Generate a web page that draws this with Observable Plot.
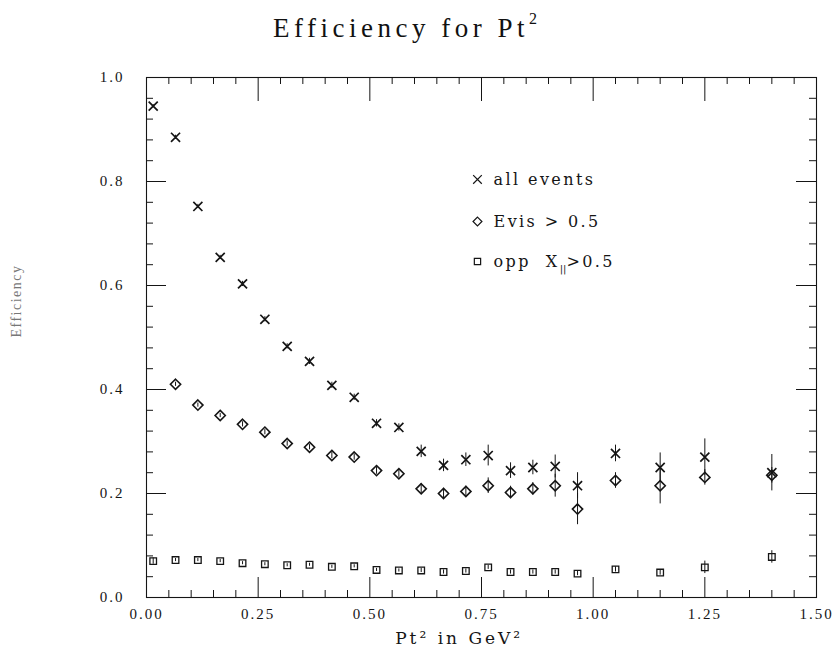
<!DOCTYPE html>
<html>
<head>
<meta charset="utf-8">
<script src="https://cdn.jsdelivr.net/npm/d3@7"></script>
<script src="https://cdn.jsdelivr.net/npm/@observablehq/plot@0.6"></script>
<style>
  body { margin: 0; background: #fff; }
  #title { position: relative; width: 837px; height: 60px; }
  #title span { position: absolute; top: 14px; left: 0; width: 810px; text-align: center;
    font-family: "Liberation Serif", serif; font-size: 27px; line-height: 1; letter-spacing: 4.5px; color: #111; }
  #title sup { font-size: 16px; letter-spacing: 0; position: relative; top: -3px; }
  svg text { white-space: pre; }
  g[font-size="15"] text { letter-spacing: 2px; }
  g[font-size="16"] text { letter-spacing: 2.4px; }
  g[font-size="17"] text { letter-spacing: 3px; }
  g[font-size="14"] text { letter-spacing: 1.5px; }
</style>
</head>
<body>
<div id="title"><span>Efficiency for Pt<sup>2</sup></span></div>
<div id="chart"></div>
<script>
// ---- data ----
const xAll = [0.015,0.065,0.115,0.165,0.215,0.265,0.315,0.365,0.415,0.465,0.515,0.565,0.615,0.665,0.715,0.765,0.815,0.865,0.915,0.965,1.05,1.15,1.25,1.40];
const yAll = [0.945,0.885,0.752,0.654,0.603,0.535,0.483,0.454,0.408,0.385,0.335,0.327,0.281,0.254,0.265,0.273,0.244,0.250,0.252,0.215,0.277,0.250,0.270,0.240];
const eAll = [0.003,0.004,0.004,0.004,0.005,0.005,0.005,0.006,0.006,0.006,0.007,0.007,0.012,0.012,0.013,0.020,0.015,0.014,0.022,0.025,0.016,0.028,0.035,0.035];

const xEvis = [0.065,0.115,0.165,0.215,0.265,0.315,0.365,0.415,0.465,0.515,0.565,0.615,0.665,0.715,0.765,0.815,0.865,0.915,0.965,1.05,1.15,1.25,1.40];
const yEvis = [0.410,0.370,0.350,0.333,0.318,0.296,0.289,0.273,0.270,0.244,0.238,0.209,0.200,0.204,0.215,0.202,0.209,0.215,0.170,0.225,0.215,0.231,0.235];
const eEvis = [0.004,0.004,0.004,0.005,0.005,0.005,0.005,0.006,0.006,0.007,0.007,0.010,0.010,0.010,0.015,0.012,0.012,0.022,0.030,0.015,0.035,0.015,0.015];

const xOpp = [0.015,0.065,0.115,0.165,0.215,0.265,0.315,0.365,0.415,0.465,0.515,0.565,0.615,0.665,0.715,0.765,0.815,0.865,0.915,0.965,1.05,1.15,1.25,1.40];
const yOpp = [0.070,0.072,0.072,0.070,0.066,0.064,0.062,0.063,0.059,0.060,0.053,0.052,0.052,0.049,0.051,0.058,0.049,0.049,0.049,0.046,0.054,0.048,0.058,0.078];
const eOpp = [0.006,0.003,0.003,0.003,0.003,0.003,0.003,0.003,0.003,0.003,0.003,0.003,0.004,0.004,0.004,0.004,0.004,0.004,0.004,0.004,0.005,0.005,0.012,0.012];

const xMajorTicks = [0, 0.25, 0.5, 0.75, 1.0, 1.25, 1.5];
const xTickLabels = ["0.00", "0.25", "0.50", "0.75", "1.00", "1.25", "1.50"];
const xMinorTicks = [0.05,0.1,0.15,0.2,0.3,0.35,0.4,0.45,0.55,0.6,0.65,0.7,0.8,0.85,0.9,0.95,1.05,1.1,1.15,1.2,1.3,1.35,1.4,1.45];
const yMajorTicks = [0, 0.2, 0.4, 0.6, 0.8, 1.0];
const yTickLabels = ["0.0", "0.2", "0.4", "0.6", "0.8", "1.0"];
const yMinorTicks = [0.04,0.08,0.12,0.16,0.24,0.28,0.32,0.36,0.44,0.48,0.52,0.56,0.64,0.68,0.72,0.76,0.84,0.88,0.92,0.96];

const legendLabels = ["all events", "Evis > 0.5", "opp  X||>0.5"];
const legendSymbols = ["times", "diamond2", "square2"];
const xLabel = "Pt² in GeV²";
const yLabel = "Efficiency";

// ---- build ----
const W = 837, H = 593, mL = 146, mR = 21, mT = 17, mB = 56;
const innerW = W - mL - mR, innerH = H - mT - mB;
const ink = "#151515";
const toRows = (xs, ys, es) => xs.map((x, i) => ({x, y: ys[i], e: es[i]}));
const all = toRows(xAll, yAll, eAll);
const evis = toRows(xEvis, yEvis, eEvis);
const opp = toRows(xOpp, yOpp, eOpp);
const legendRows = legendLabels.map((t, i) => ({t, s: legendSymbols[i], y: [0.804, 0.723, 0.646][i]}));

const majorLen = 20, minorLen = 7;

const svg = Plot.plot({
  width: W, height: H,
  marginLeft: mL, marginRight: mR, marginTop: mT, marginBottom: mB,
  x: {domain: [0, 1.5], axis: null},
  y: {domain: [0, 1], axis: null},
  style: {background: "#fff", color: ink, fontFamily: "Liberation Serif, serif"},
  marks: [
    Plot.frame({stroke: ink, strokeWidth: 1.1}),
    // x ticks bottom & top
    Plot.tickX(xMajorTicks, {x: d => d, insetTop: innerH - majorLen, stroke: ink}),
    Plot.tickX(xMajorTicks, {x: d => d, insetBottom: innerH - majorLen - 4, stroke: ink}),
    Plot.tickX(xMinorTicks, {x: d => d, insetTop: innerH - minorLen, stroke: ink}),
    Plot.tickX(xMinorTicks, {x: d => d, insetBottom: innerH - minorLen, stroke: ink}),
    // y ticks left & right
    Plot.tickY(yMajorTicks, {y: d => d, insetRight: innerW - majorLen, stroke: ink}),
    Plot.tickY(yMajorTicks, {y: d => d, insetLeft: innerW - majorLen, stroke: ink}),
    Plot.tickY(yMinorTicks, {y: d => d, insetRight: innerW - minorLen, stroke: ink}),
    Plot.tickY(yMinorTicks, {y: d => d, insetLeft: innerW - minorLen, stroke: ink}),
    // tick labels
    Plot.text(xMajorTicks, {x: d => d, text: (d, i) => xTickLabels[i], frameAnchor: "bottom", dy: 21, fontSize: 15, fill: ink}),
    Plot.text(yMajorTicks, {y: d => d, text: (d, i) => yTickLabels[i], frameAnchor: "left", dx: -22, textAnchor: "end", fontSize: 15, fill: ink}),
    // axis titles
    Plot.text([xLabel], {x: () => 0.70, text: d => d, frameAnchor: "bottom", dy: 46, fontSize: 17, fontFamily: "DejaVu Serif", fill: ink}),
    Plot.text([yLabel], {text: d => d, frameAnchor: "left", dx: -130, rotate: -90, fontSize: 14, fill: "#777"}),
    // error bars
    Plot.ruleX(all, {x: "x", y1: d => d.y - d.e, y2: d => d.y + d.e, stroke: ink, strokeWidth: 1}),
    Plot.ruleX(evis, {x: "x", y1: d => d.y - d.e, y2: d => d.y + d.e, stroke: ink, strokeWidth: 1}),
    Plot.ruleX(opp, {x: "x", y1: d => d.y - d.e, y2: d => d.y + d.e, stroke: ink, strokeWidth: 1}),
    // points
    Plot.dot(all, {x: "x", y: "y", symbol: "times", r: 4.2, stroke: ink, strokeWidth: 1.7}),
    Plot.dot(evis, {x: "x", y: "y", symbol: "diamond2", r: 4.6, stroke: ink, strokeWidth: 1.6, fill: "none"}),
    Plot.dot(opp, {x: "x", y: "y", symbol: "square2", r: 4.2, stroke: ink, strokeWidth: 1.3, fill: "none"}),
    // legend
    Plot.dot(legendRows, {x: () => 0.741, y: "y", symbol: "s", r: 4, stroke: ink, strokeWidth: 1.2, fill: "none"}),
    Plot.text(legendRows, {x: () => 0.777, y: "y", text: "t", textAnchor: "start", fontSize: 16, fontFamily: "DejaVu Serif", fill: ink})
  ]
});
document.getElementById("chart").appendChild(svg);

// subscript for X_||
d3.select(svg).selectAll("text").each(function() {
  if (this.textContent === legendLabels[2]) {
    const t = d3.select(this);
    t.text(null);
    t.append("tspan").text("opp  X");
    t.append("tspan").attr("dy", 5).attr("font-size", 10).style("letter-spacing", "0px").text("||");
    t.append("tspan").attr("dy", -5).text(">0.5");
  }
});
</script>
</body>
</html>
